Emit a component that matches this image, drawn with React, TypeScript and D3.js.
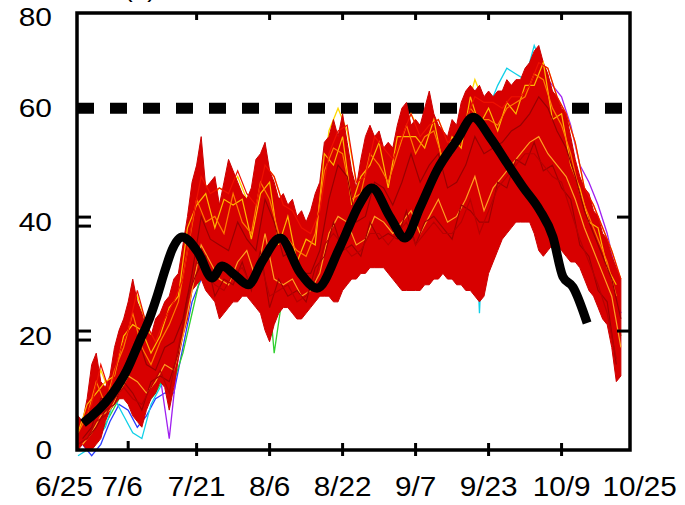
import React from 'react';
import * as d3 from 'd3';

// ---------- data ----------
const xTickLabels = ['6/25', '7/6', '7/21', '8/6', '8/22', '9/7', '9/23', '10/9', '10/25'];
const xTickDays = [0, 11, 26, 42, 58, 74, 90, 106, 122];
const yTickValues = [0, 20, 40, 60, 80];
const thresholdValue = 60;

// ensemble envelope, one value per day from 6/25
const bandUpper = [
  6, 5, 9, 15, 17, 12, 11, 13, 18, 21,
  23, 26, 30, 26, 24, 21, 20, 23, 24, 26,
  27, 30, 31, 36, 41, 47, 50, 55, 46, 47,
  48, 43, 47, 51, 49, 47, 45, 44, 46, 51,
  52, 54, 49, 47, 44, 45, 43, 44, 41, 42,
  40, 42, 45, 47, 54, 55, 58, 55, 59, 54,
  49, 46, 51, 55, 57, 55, 56, 53, 54, 53,
  57, 60, 61, 57, 58, 57, 60, 63, 59, 57,
  56, 55, 58, 57, 61, 63, 64, 63, 64, 62,
  63, 62, 63, 63, 65, 64, 65, 65, 67, 68,
  70, 71, 68, 66, 63, 62, 60, 59, 55, 51,
  48, 46, 45, 42, 41, 38, 37, 34, 32, 30,
];
const bandLower = [
  0, 1, 0, 0, 1, 2, 5, 7, 8, 9,
  9, 8, 6, 5, 4, 7, 9, 10, 12, 11,
  7, 11, 16, 20, 23, 28, 29, 30, 28, 27,
  26, 23, 24, 25, 26, 26, 27, 27, 26, 25,
  24, 21, 19, 22, 24, 25, 25, 24, 23, 23,
  24, 25, 26, 27, 27, 27, 26, 26, 28, 29,
  30, 30, 31, 31, 32, 32, 32, 32, 31, 30,
  29, 28, 28, 28, 28, 28, 29, 29, 30, 30,
  31, 30, 30, 29, 29, 28, 28, 27, 26, 27,
  31, 33, 35, 37, 38, 39, 40, 40, 40, 40,
  38, 35, 34, 35, 36, 36, 35, 34, 33, 33,
  32, 30, 28, 27, 25, 23, 22, 18, 12, 13,
];

// individual members, one value every 2 days starting at "start"
const cyanMember = [-1, 0, 2, 4, 9, 6, 3, 2, 8, 11, 15, 20, 27, 33, 35, 30, 33, 38, 35, 33, 40, 26, 30, 34, 30, 33, 38, 44, 40, 45, 40, 42, 48, 45, 44, 47, 50, 46, 49, 52, 48, 50, 56, 62, 24, 60, 64, 67, 66, 65, 71, 67, 62, 58, 52, 46, 42, 38, 33, 27];
const blueMember = [1, -1, 1, 5, 8, 7, 4, 6, 9, 10, 10, 18, 26, 30, 38, 34, 30, 36, 40, 33, 42, 36, 33, 32, 29, 30, 35, 40, 45, 42, 38, 40, 44, 42, 40, 44, 46, 42, 45, 48, 46, 44, 48, 52, 50, 52, 55, 54, 56, 58, 60, 62, 58, 55, 50, 44, 40, 36, 30, 24];
const purpleMember = [2, 1, 3, 6, 10, 11, 8, 7, 10, 13, 2, 17, 25, 35, 42, 38, 40, 43, 38, 40, 46, 42, 38, 36, 35, 34, 38, 44, 47, 46, 42, 44, 48, 47, 46, 48, 52, 50, 51, 54, 52, 53, 55, 57, 56, 58, 58, 60, 60, 62, 64, 66, 64, 62, 57, 50, 47, 43, 38, 31];
const greenMember = [1, 2, 3, 6, 9, 10, 8, 8, 10, 13, 12, 17, 24, 31, 36, 33, 31, 35, 33, 30, 36, 17, 28, 30, 28, 32, 36, 50, 48, 44, 38, 40, 46, 44, 42, 45, 48, 44, 47, 50, 47, 48, 52, 56, 54, 55, 56, 58, 57, 60, 62, 60, 57, 54, 48, 42, 38, 34, 28, 20];
const yellowMember = [4, 8, 14, 10, 16, 21, 27, 22, 18, 22, 25, 29, 38, 49, 44, 46, 45, 48, 44, 43, 50, 48, 43, 42, 39, 38, 42, 56, 60, 56, 47, 48, 54, 53, 51, 55, 59, 56, 57, 58, 54, 55, 59, 65, 61, 62, 61, 62, 63, 64, 68, 67, 62, 59, 54, 46, 43, 39, 35, 30];
const orangeMember = [3, 6, 12, 8, 14, 18, 24, 18, 15, 19, 22, 26, 35, 44, 40, 41, 38, 45, 40, 38, 47, 44, 38, 37, 35, 34, 38, 49, 53, 52, 44, 45, 52, 50, 47, 52, 57, 52, 55, 56, 51, 52, 55, 60, 58, 58, 57, 60, 61, 62, 66, 65, 60, 57, 52, 45, 41, 37, 33, 27];
const lightOrangeMember = [1, 3, 6, 7, 10, 13, 12, 10, 12, 15, 14, 20, 28, 36, 33, 30, 29, 33, 35, 30, 38, 30, 29, 30, 27, 28, 31, 38, 41, 40, 36, 37, 41, 40, 38, 40, 42, 38, 41, 44, 40, 41, 44, 48, 42, 46, 48, 50, 52, 54, 55, 52, 50, 48, 44, 39, 35, 31, 27, 18];
const goldMember = [3, 8, 10, 12, 13, 20, 22, 21, 17, 20, 25, 27, 39, 43, 45, 39, 44, 43, 44, 37, 45, 47, 36, 41, 33, 37, 36, 52, 50, 55, 43, 48, 50, 54, 46, 55, 55, 55, 53, 58, 50, 55, 53, 62, 57, 60, 56, 61, 59, 64, 64, 68, 58, 59, 50, 46, 40, 39, 32, 29];
const darkRedMember = [2, 4, 9, 9, 12, 16, 20, 15, 14, 18, 19, 23, 31, 41, 37, 36, 35, 40, 37, 35, 44, 40, 34, 35, 31, 31, 35, 44, 50, 48, 40, 41, 47, 46, 43, 47, 52, 47, 50, 52, 46, 47, 50, 55, 52, 53, 54, 56, 57, 59, 62, 60, 56, 53, 48, 42, 38, 34, 30, 23];
const maroonMember = [1, 2, 4, 7, 8, 12, 10, 7, 12, 13, 12, 17, 27, 31, 34, 27, 30, 29, 33, 28, 35, 25, 30, 27, 28, 26, 32, 34, 40, 35, 36, 34, 40, 37, 38, 37, 42, 36, 40, 41, 39, 37, 43, 42, 40, 40, 47, 46, 51, 50, 54, 49, 50, 46, 44, 36, 34, 28, 26, 15];
const redMemberLow = [1, 2, 5, 6, 9, 11, 9, 8, 11, 14, 10, 18, 26, 33, 31, 29, 28, 31, 32, 29, 33, 27, 28, 29, 26, 27, 30, 36, 38, 36, 34, 35, 38, 38, 36, 38, 40, 36, 38, 40, 38, 38, 40, 44, 38, 42, 46, 48, 50, 52, 52, 50, 48, 47, 42, 37, 33, 29, 24, 16];
const redMemberHigh = [5, 8, 15, 10, 17, 21, 28, 22, 19, 23, 26, 30, 40, 48, 45, 46, 45, 49, 45, 43, 50, 48, 43, 42, 39, 38, 42, 52, 56, 57, 47, 48, 55, 53, 51, 55, 59, 55, 57, 58, 54, 55, 58, 62, 61, 61, 60, 62, 62, 64, 68, 67, 62, 59, 54, 46, 43, 39, 35, 30];

// thick black curve
const meanDays = [1.1, 7.0, 10.7, 13.6, 15.3, 17.3, 19.1, 20.6, 22.8, 26.3, 29.4, 31.6, 34.4, 37.3, 40.3, 44.3, 48.7, 52.4, 57.4, 61.8, 64.4, 68.4, 71.7, 75.0, 78.7, 83.1, 86.6, 90.3, 94.0, 97.5, 101.2, 104.1, 106.3, 108.5, 111.6];
const meanValues = [4.7, 9.3, 14.0, 19.3, 22.3, 26.9, 31.6, 35.1, 37.4, 34.7, 30.2, 32.3, 30.7, 29.0, 33.0, 37.2, 31.1, 28.4, 35.6, 43.3, 46.0, 40.9, 37.2, 42.6, 49.1, 54.4, 58.4, 54.9, 50.4, 46.2, 42.1, 37.4, 30.4, 28.6, 22.3];

// members drawn beneath the red mass (fringe colours) and above it (texture)
const underMembers = [
  { values: blueMember, start: 1, color: '#2a3cff' },
  { values: purpleMember, start: 0, color: '#a020f0' },
  { values: greenMember, start: 1, color: '#30d030' },
  { values: cyanMember, start: 0, color: '#10d0e8' },
  { values: yellowMember, start: 1, color: '#ffd800' },
];
const overMembers = [
  { values: lightOrangeMember, start: 1, color: '#ffa020' },
  { values: goldMember, start: 0, color: '#ffb800' },
  { values: orangeMember, start: 0, color: '#ff7a00' },
  { values: maroonMember, start: 0, color: '#a00000' },
  { values: redMemberLow, start: 0, color: '#b80000' },
  { values: darkRedMember, start: 1, color: '#9a0000' },
  { values: redMemberHigh, start: 1, color: '#ee1000' },
];

const FONT = '"Liberation Sans", Arial, Helvetica, sans-serif';
const labelDx: Record<string, number> = { '6/25': -14, '7/6': -6, '10/25': 5 };

export default function App() {
  const W = 685;
  const H = 505;
  const x = d3.scaleLinear().domain([0, 121]).range([78, 630]);
  const y = d3.scaleLinear().domain([0, 76.7]).range([450, 13]);
  const left = 77;
  const right = 630;
  const top = 13;
  const bottom = 450;

  const area = d3
    .area<number>()
    .x((_, i) => x(i))
    .y0((_, i) => y(bandLower[i]))
    .y1((d) => y(d))
    .curve(d3.curveLinear);

  const memberLine = (start: number) =>
    d3
      .line<number>()
      .x((_, i) => x(start + 2 * i))
      .y((d) => y(d));

  const meanLine = d3
    .line<number>()
    .x((d) => x(d))
    .y((_, i) => y(meanValues[i]))
    .curve(d3.curveMonotoneX);

  const innerTickDays = xTickDays.slice(2, 8);

  return (
    <svg
      width={W}
      height={H}
      viewBox={`0 0 ${W} ${H}`}
      style={{ position: 'absolute', left: 0, top: 0, background: '#fff' }}
    >
      <rect x={0} y={0} width={W} height={H} fill="#fff" />
      {/* cut-off panel title (only its lower edge shows, as in the reference) */}
      <text x={140} y={-3} fontFamily={FONT} fontSize={26} textAnchor="middle" fill="#000">
        (b)
      </text>

      {/* threshold */}
      <line
        x1={left}
        x2={right - 8}
        y1={y(thresholdValue)}
        y2={y(thresholdValue)}
        stroke="#000"
        strokeWidth={11}
        strokeDasharray="17 16"
      />

      {underMembers.map((m, k) => (
        <path key={'u' + k} d={memberLine(m.start)(m.values) || ''} fill="none" stroke={m.color} strokeWidth={1.3} />
      ))}

      <path d={area(bandUpper) || ''} fill="#d80000" stroke="#cc0000" strokeWidth={1} />

      {overMembers.map((m, k) => (
        <path key={'o' + k} d={memberLine(m.start)(m.values) || ''} fill="none" stroke={m.color} strokeWidth={1.2} />
      ))}

      <path
        d={meanLine(meanDays) || ''}
        fill="none"
        stroke="#000"
        strokeWidth={9}
        strokeLinejoin="round"
        strokeLinecap="butt"
      />

      {/* frame */}
      <rect x={left} y={top} width={right - left} height={bottom - top} fill="none" stroke="#000" strokeWidth={3.5} />

      {/* top ticks */}
      {innerTickDays.map((d) => (
        <line key={'tt' + d} x1={x(d)} x2={x(d)} y1={top} y2={top + 7} stroke="#000" strokeWidth={3} />
      ))}
      {/* bottom ticks */}
      <line x1={x(xTickDays[1])} x2={x(xTickDays[1])} y1={bottom - 9} y2={bottom} stroke="#000" strokeWidth={3} />
      {innerTickDays.map((d) => (
        <line key={'bt' + d} x1={x(d)} x2={x(d)} y1={bottom - 7} y2={bottom + 6} stroke="#000" strokeWidth={3} />
      ))}
      {/* left double ticks and right ticks */}
      {[20, 40].map((v) => (
        <g key={'yt' + v}>
          <line x1={left} x2={left + 14} y1={y(v) - 5} y2={y(v) - 5} stroke="#000" strokeWidth={3} />
          <line x1={left} x2={left + 14} y1={y(v) + 4} y2={y(v) + 4} stroke="#000" strokeWidth={3} />
          <line x1={right - 13} x2={right} y1={y(v) - 5} y2={y(v) - 5} stroke="#000" strokeWidth={3} />
        </g>
      ))}

      {/* y labels */}
      {yTickValues.map((v) => (
        <text
          key={'yl' + v}
          transform={`translate(52,${Math.max(y(v), 17) + 9}) scale(1.15,1)`}
          fontFamily={FONT}
          fontSize={26}
          textAnchor="end"
          fill="#000"
        >
          {v}
        </text>
      ))}

      {/* x labels */}
      {xTickLabels.map((lab, i) => (
        <text
          key={'xl' + lab}
          transform={`translate(${x(xTickDays[i]) + (labelDx[lab] || 0)},496) scale(1.1,1)`}
          fontFamily={FONT}
          fontSize={27}
          textAnchor="middle"
          fill="#000"
        >
          {lab}
        </text>
      ))}
    </svg>
  );
}
